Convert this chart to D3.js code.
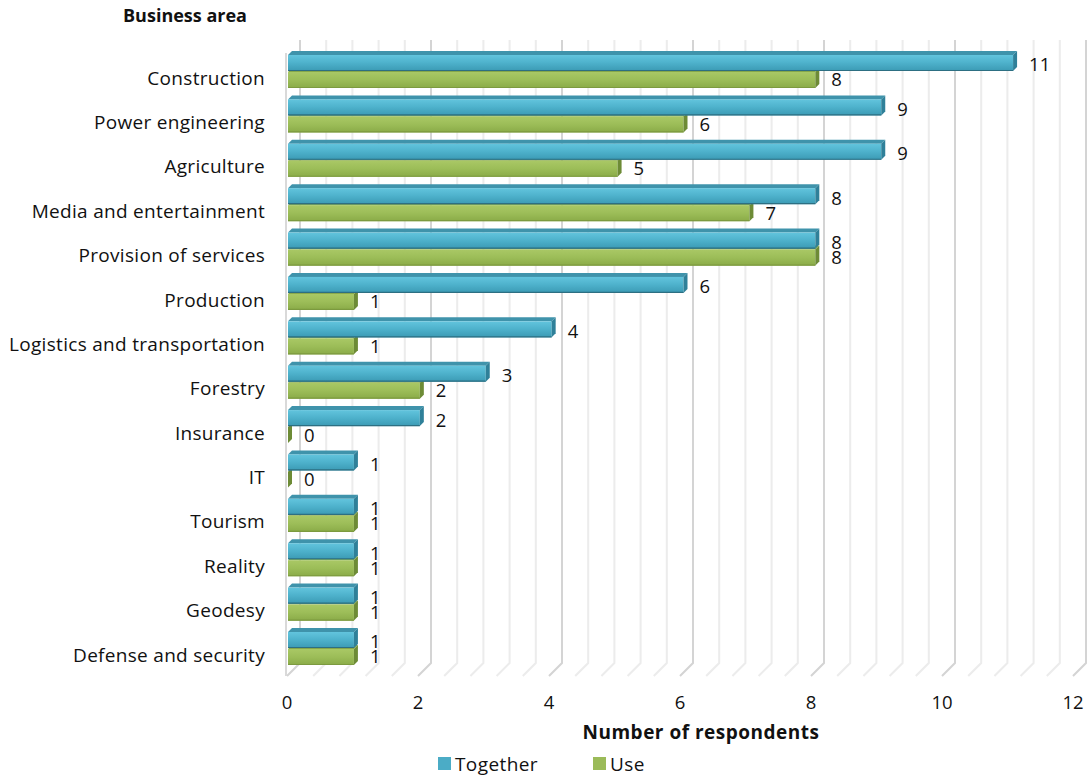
<!DOCTYPE html>
<html lang="en">
<head>
    <meta charset="UTF-8">
    <title>Business area chart</title>
    <script src="https://d3js.org/d3.v7.min.js"></script>
    <style>
        body{
            margin: 0;
            background-color: white;
        }
        #canvas text{
            font-family: "Open Sans", "Noto Sans", sans-serif;
            fill: #111;
        }
    </style>
</head>
<body>
    <svg id='canvas' width='1088' height='776'></svg>
    <script>
        // chart data
        let categories = ['Construction', 'Power engineering', 'Agriculture', 'Media and entertainment',
            'Provision of services', 'Production', 'Logistics and transportation', 'Forestry',
            'Insurance', 'IT', 'Tourism', 'Reality', 'Geodesy', 'Defense and security'];
        let together = [11, 9, 9, 8, 8, 6, 4, 3, 2, 1, 1, 1, 1, 1];
        let use = [8, 6, 5, 7, 8, 1, 1, 2, 0, 0, 1, 1, 1, 1];
        let tickValues = [0, 2, 4, 6, 8, 10, 12];
        let seriesNames = ['Together', 'Use'];

        let svg = d3.select('#canvas');
        let depth = 13;   // 3d offset of the back wall
        let d = 4;        // bar thickness offset

        // front plane, back wall and bar scales
        let x = d3.scaleLinear().domain([0, 12]).range([287, 1073]);
        let xBack = d3.scaleLinear().domain([0, 12]).range([287 + depth, 1073 + depth]);
        let xBar = d3.scaleLinear().domain([0, 12]).range([288, 1079]);
        let y = d3.scalePoint().domain(categories).range([71, 648]);

        let wallTop = 40, wallBottom = 663;

        // gradients
        let defs = svg.append('defs');
        function grad(id, stops){
            let g = defs.append('linearGradient').attr('id', id)
                .attr('x1', 0).attr('y1', 0).attr('x2', 0).attr('y2', 1);
            stops.forEach(s => g.append('stop').attr('offset', s[0]).attr('stop-color', s[1]));
        }
        grad('blueFront', [[0, '#62c4dd'], [0.45, '#4fb3cd'], [1, '#3b9ab4']]);
        grad('greenFront', [[0, '#a9c865'], [0.5, '#9cbd58'], [1, '#8aab48']]);

        // grid on the back wall and the floor
        let gridVals = d3.range(0, 30.5).map(i => i * 0.4);
        let grid = svg.append('g').attr('id', 'grid');
        grid.selectAll('path.gl')
            .data(gridVals)
            .enter()
            .append('path')
            .attr('class', 'gl')
            .attr('fill', 'none')
            .attr('stroke', v => (Math.round(v * 10) % 20 == 0) ? '#d4d4d4' : '#ececec')
            .attr('stroke-width', 2)
            .attr('d', v => d3.line()([[xBack(v), wallTop], [xBack(v), wallBottom], [x(v), wallBottom + depth]]));

        // front edge of the side wall
        grid.append('line')
            .attr('x1', x(0) - 1).attr('x2', x(0) - 1)
            .attr('y1', wallTop + depth).attr('y2', wallBottom + depth)
            .attr('stroke', '#d9d9d9').attr('stroke-width', 2);

        // bars
        let bars = svg.append('g').attr('id', 'bars');

        function drawBar(v, top, h, front, topCol, sideCol, edgeCol){
            let x0 = xBar(0), xe = xBar(v);
            let g = bars.append('g');
            g.append('path')
                .attr('d', d3.line()([[x0, top], [x0 + d, top - d], [xe + d, top - d], [xe, top]]) + 'Z')
                .attr('fill', topCol);
            if(v > 0){
                g.append('rect')
                    .attr('x', x0).attr('y', top)
                    .attr('width', xe - x0).attr('height', h)
                    .attr('fill', front);
                g.append('line')
                    .attr('x1', x0).attr('x2', xe)
                    .attr('y1', top + h - 0.5).attr('y2', top + h - 0.5)
                    .attr('stroke', edgeCol).attr('stroke-width', 1.2);
            }
            g.append('path')
                .attr('d', d3.line()([[xe, top], [xe + d, top - d], [xe + d, top + h - d], [xe, top + h]]) + 'Z')
                .attr('fill', sideCol);
        }

        categories.forEach(function(c, i){
            let cy = y(c);
            // green first so blue sits above it
            drawBar(use[i], cy + 1, 16, 'url(#greenFront)', '#87a74a', '#6d8b36', '#7c9a3f');
            drawBar(together[i], cy - 16, 16, 'url(#blueFront)', '#3f93ab', '#2f8099', '#2d6f82');
        });

        // value labels
        let labels = svg.append('g').attr('id', 'valueLabels').style('font-size', '18.5px');
        labels.selectAll('text.tog')
            .data(categories)
            .enter()
            .append('text')
            .attr('class', 'tog')
            .attr('x', (c, i) => xBar(together[i]) + d + 12)
            .attr('y', c => y(c) - 6)
            .attr('dy', '0.35em')
            .text((c, i) => together[i]);
        labels.selectAll('text.use')
            .data(categories)
            .enter()
            .append('text')
            .attr('class', 'use')
            .attr('x', (c, i) => xBar(use[i]) + d + 12)
            .attr('y', c => y(c) + 9)
            .attr('dy', '0.35em')
            .text((c, i) => use[i]);

        // category labels
        svg.append('g')
            .selectAll('text')
            .data(categories)
            .enter()
            .append('text')
            .attr('x', 265)
            .attr('y', c => y(c) + 7)
            .attr('dy', '0.35em')
            .attr('text-anchor', 'end')
            .style('font-size', '19px')
            .style('letter-spacing', '0.3px')
            .text(c => c);

        // x tick labels
        svg.append('g')
            .selectAll('text')
            .data(tickValues)
            .enter()
            .append('text')
            .attr('x', v => x(v))
            .attr('y', 703)
            .attr('dy', '0.35em')
            .attr('text-anchor', 'middle')
            .style('font-size', '18.5px')
            .text(v => v);

        // axis titles
        svg.append('text')
            .attr('x', 701).attr('y', 732).attr('dy', '0.35em')
            .attr('text-anchor', 'middle')
            .style('font-size', '19px').style('font-weight', 'bold')
            .style('letter-spacing', '0.5px')
            .text('Number of respondents');
        svg.append('text')
            .attr('x', 185).attr('y', 16).attr('dy', '0.35em')
            .attr('text-anchor', 'middle')
            .style('font-size', '18px').style('font-weight', 'bold')
            .text('Business area');

        // legend
        let legendX = [438, 593];
        let legendCol = ['#4bacc6', '#9bbb59'];
        let legend = svg.append('g').attr('id', 'legend');
        seriesNames.forEach(function(s, i){
            legend.append('rect')
                .attr('x', legendX[i]).attr('y', 757)
                .attr('width', 13).attr('height', 13)
                .attr('fill', legendCol[i]);
            legend.append('text')
                .attr('x', legendX[i] + 17).attr('y', 764).attr('dy', '0.35em')
                .style('font-size', '19px')
                .style('letter-spacing', '0.4px')
                .text(s);
        });
    </script>
</body>
</html>
